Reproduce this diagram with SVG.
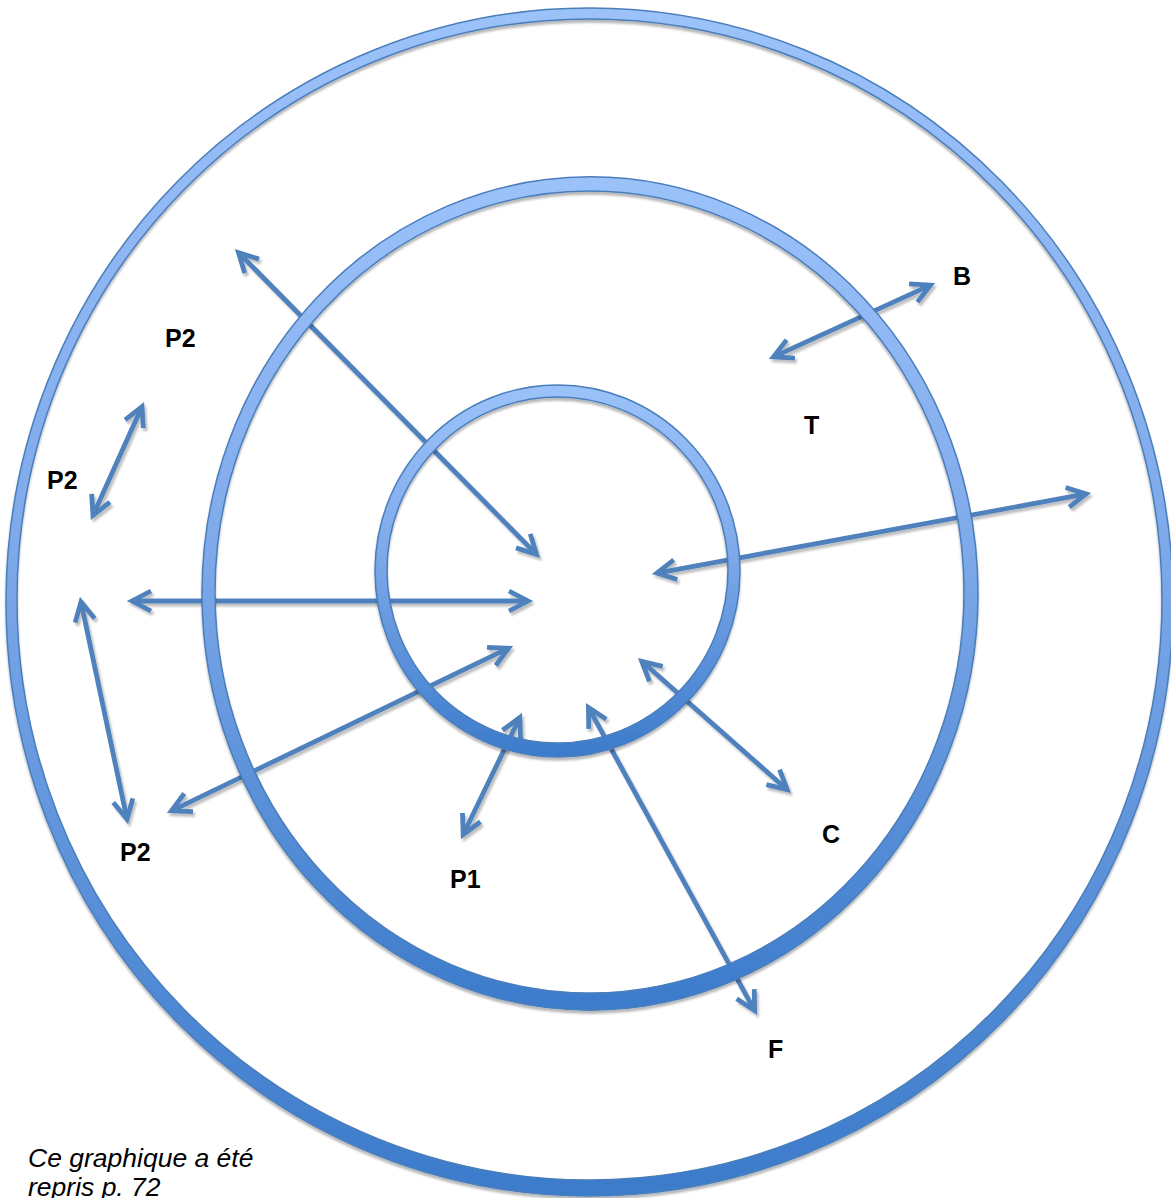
<svg xmlns="http://www.w3.org/2000/svg" width="1171" height="1198" viewBox="0 0 1171 1198">
<defs>
<style>
.ring{fill:url(#rg);fill-rule:evenodd;stroke:#4a7ebb;stroke-width:1.5}
.arr{fill:none;stroke:#4f81bd;stroke-width:4.8;marker-start:url(#ah);marker-end:url(#ah)}
.lbl{font-family:"Liberation Sans",Arial,sans-serif;font-weight:bold;font-size:25px;fill:#000}
.cap{font-family:"Liberation Sans",Arial,sans-serif;font-style:italic;font-size:26.5px;fill:#000}
</style>
<linearGradient id="rg" x1="0" y1="0" x2="0" y2="1">
<stop offset="0" stop-color="#9cc2fa"/>
<stop offset="0.45" stop-color="#7ea9ea"/>
<stop offset="1" stop-color="#3b7bcb"/>
</linearGradient>
<filter id="rsh" x="-5%" y="-5%" width="110%" height="112%">
<feDropShadow dx="0" dy="3" stdDeviation="1.2" flood-color="#000" flood-opacity="0.28"/>
</filter>
<filter id="ash" x="-5%" y="-5%" width="110%" height="110%">
<feDropShadow dx="2" dy="3" stdDeviation="1" flood-color="#000" flood-opacity="0.25"/>
</filter>
<marker id="ah" markerUnits="userSpaceOnUse" orient="auto-start-reverse" refX="0" refY="0" markerWidth="40" markerHeight="40" overflow="visible">
<path d="M-19,-10 L0,0 L-19,10" fill="none" stroke="#4f81bd" stroke-width="4.8" stroke-linejoin="miter"/>
</marker>
</defs>
<rect width="1171" height="1198" fill="#fff"/>

<g id="connectors" filter="url(#ash)">
<line class="arr" x1="238.5" y1="252.6" x2="536.5" y2="554.4"/>
<line class="arr" x1="930.5" y1="285.1" x2="773.5" y2="356.9"/>
<line class="arr" x1="1086.1" y1="493.9" x2="656.9" y2="573.1"/>
<line class="arr" x1="132" y1="601" x2="528" y2="601"/>
<line class="arr" x1="171.5" y1="810.8" x2="508.5" y2="648.2"/>
<line class="arr" x1="81" y1="601.9" x2="127" y2="819.1"/>
<line class="arr" x1="142" y1="406.6" x2="93" y2="515.4"/>
<line class="arr" x1="519.8" y1="717.5" x2="463.2" y2="834.5"/>
<line class="arr" x1="588.4" y1="707.4" x2="754.6" y2="1010.6"/>
<line class="arr" x1="641.8" y1="661.3" x2="787.2" y2="789.7"/>
</g>

<g id="ring-outer" filter="url(#rsh)">
<path class="ring" d="M6,602 a583.5,594 0 1,0 1167,0 a583.5,594 0 1,0 -1167,0 Z M17,599.5 a572.5,580.5 0 1,0 1145,0 a572.5,580.5 0 1,0 -1145,0 Z"/>
</g>
<g id="ring-middle" filter="url(#rsh)">
<path class="ring" d="M202,593.5 a388,416.5 0 1,0 776,0 a388,416.5 0 1,0 -776,0 Z M215,592 a374.5,401 0 1,0 749,0 a374.5,401 0 1,0 -749,0 Z"/>
</g>
<g id="ring-inner" filter="url(#rsh)">
<path class="ring" d="M375,571 a182.5,186 0 1,0 365,0 a182.5,186 0 1,0 -365,0 Z M387,570 a170.5,173 0 1,0 341,0 a170.5,173 0 1,0 -341,0 Z"/>
</g>

<g id="label-B"><text class="lbl" x="953" y="285">B</text></g>
<g id="label-P2-top"><text class="lbl" x="165" y="347">P2</text></g>
<g id="label-T"><text class="lbl" x="804" y="434">T</text></g>
<g id="label-P2-left"><text class="lbl" x="47" y="489">P2</text></g>
<g id="label-P2-bottom"><text class="lbl" x="120" y="861">P2</text></g>
<g id="label-P1"><text class="lbl" x="450" y="888">P1</text></g>
<g id="label-C"><text class="lbl" x="822" y="843">C</text></g>
<g id="label-F"><text class="lbl" x="768" y="1058">F</text></g>

<g id="caption">
<text class="cap" x="28" y="1167">Ce graphique a été</text>
<text class="cap" x="28" y="1196">repris p. 72</text>
</g>
</svg>
